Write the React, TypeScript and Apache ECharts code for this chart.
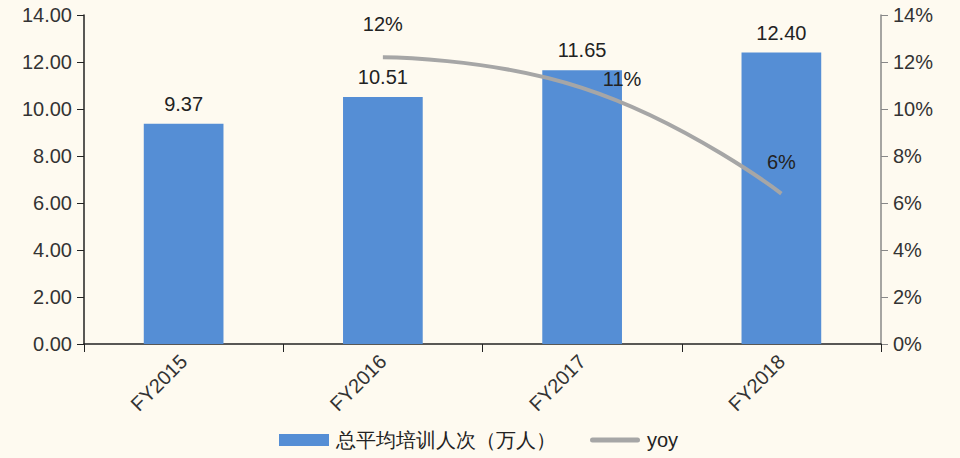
import React, { useEffect, useRef } from "react";
import * as echarts from "echarts";

const categories = ["FY2015", "FY2016", "FY2017", "FY2018"];
const trainees = [9.37, 10.51, 11.65, 12.4];
const yoy: (number | null)[] = [null, 12.2, 10.9, 6.4];
const yoyLabels = ["", "12%", "11%", "6%"];
const leftTicks = [0, 2, 4, 6, 8, 10, 12, 14];

const FONT = "'Liberation Sans', Arial, sans-serif";
const FS = 20;

export default function App() {
  const ref = useRef<HTMLDivElement>(null);
  useEffect(() => {
    document.body.style.margin = "0";
    if (!ref.current) return;
    const chart = echarts.init(ref.current, undefined, { renderer: "svg" });
    const labelOffsets: Record<number, [number, number]> = {
      1: [0, -33],
      2: [40, -9],
      3: [0, -32],
    };
    chart.setOption({
      animation: false,
      backgroundColor: "#FEFAF0",
      textStyle: { fontFamily: FONT },
      grid: { left: 84, right: 79, top: 15, bottom: 114 },
      legend: {
        bottom: 3,
        left: 274,
        itemGap: 34,
        itemWidth: 50,
        itemHeight: 12,
        textStyle: { fontFamily: FONT, fontSize: FS, color: "#222", padding: [0, 0, 0, 2] },
        data: [
          { name: "总平均培训人次（万人）", icon: "rect" },
          {
            name: "yoy",
            icon: "path://M3,0 L57,0 A3,3 0 0 1 57,6 L3,6 A3,3 0 0 1 3,0 Z",
            itemStyle: { color: "#A6A6A6" },
          },
        ],
      },
      xAxis: {
        type: "category",
        data: categories,
        axisLine: { lineStyle: { color: "#222", width: 1.5 } },
        axisTick: { show: true, alignWithLabel: false, length: 8, lineStyle: { color: "#222" } },
        axisLabel: { rotate: 45, fontSize: FS, color: "#333", margin: 14, fontFamily: FONT },
      },
      yAxis: [
        {
          type: "value",
          min: 0,
          max: 14,
          interval: 2,
          splitLine: { show: false },
          axisLine: { show: true, lineStyle: { color: "#222", width: 1.5 } },
          axisTick: { show: true, length: 7, lineStyle: { color: "#222" } },
          axisLabel: {
            fontSize: FS,
            color: "#333",
            margin: 12,
            fontFamily: FONT,
            formatter: (v: number) => (leftTicks.includes(v) ? v.toFixed(2) : ""),
          },
        },
        {
          type: "value",
          min: 0,
          max: 14,
          interval: 2,
          splitLine: { show: false },
          axisLine: { show: true, lineStyle: { color: "#888", width: 1.5 } },
          axisTick: { show: true, length: 7, lineStyle: { color: "#888" } },
          axisLabel: {
            fontSize: FS,
            color: "#333",
            margin: 12,
            fontFamily: FONT,
            formatter: (v: number) => v + "%",
          },
        },
      ],
      series: [
        {
          name: "总平均培训人次（万人）",
          type: "bar",
          data: trainees,
          barWidth: "40%",
          itemStyle: { color: "#558ED5" },
          label: {
            show: true,
            position: "top",
            distance: 10,
            fontSize: FS,
            color: "#222",
            fontFamily: FONT,
            formatter: (p: any) => p.value.toFixed(2),
          },
        },
        {
          name: "yoy",
          type: "line",
          yAxisIndex: 1,
          smooth: 0.5,
          showSymbol: true,
          symbol: "circle",
          symbolSize: 0.1,
          connectNulls: false,
          lineStyle: { color: "#A6A6A6", width: 4 },
          itemStyle: { color: "#A6A6A6" },
          data: yoy.map((v, i) => ({
            value: v,
            label: {
              show: v !== null,
              position: "inside",
              offset: labelOffsets[i] || [0, 0],
              formatter: yoyLabels[i],
              fontSize: FS,
              color: "#222",
              fontFamily: FONT,
            },
          })),
        },
      ],
    });
    return () => chart.dispose();
  }, []);
  return <div ref={ref} style={{ width: 960, height: 458 }} />;
}
